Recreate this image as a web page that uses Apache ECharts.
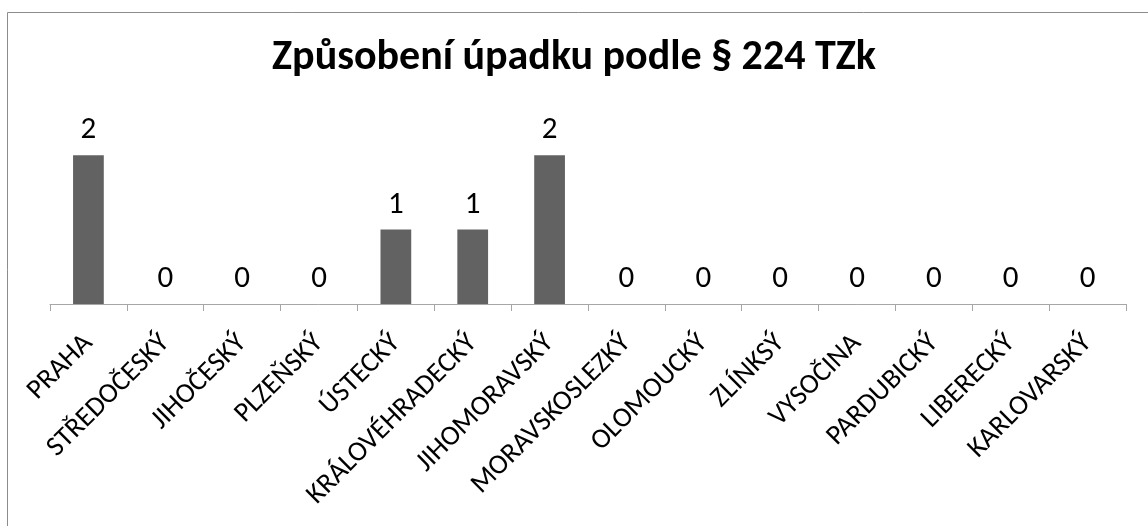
<!DOCTYPE html>
<html>
<head>
<meta charset="utf-8">
<script src="https://cdn.jsdelivr.net/npm/echarts@6/dist/echarts.min.js"></script>
<style>
  html, body { margin: 0; padding: 0; background: #fff; }
  #main { width: 1148px; height: 526px; }
</style>
</head>
<body>
<div id="main"></div>
<script>
  var regions = ['PRAHA', 'STŘEDOČESKÝ', 'JIHOČESKÝ', 'PLZEŇSKÝ', 'ÚSTECKÝ', 'KRÁLOVÉHRADECKÝ',
    'JIHOMORAVSKÝ', 'MORAVSKOSLEZKÝ', 'OLOMOUCKÝ', 'ZLÍNKSÝ', 'VYSOČINA', 'PARDUBICKÝ',
    'LIBERECKÝ', 'KARLOVARSKÝ']
  var counts = [2, 0, 0, 0, 1, 1, 2, 0, 0, 0, 0, 0, 0, 0]
  var titleText = 'Způsobení úpadku podle § 224 TZk'

  var font = 'Carlito, Lato, "Liberation Sans", sans-serif'
  var chart = echarts.init(document.getElementById('main'))
  chart.setOption({
    animation: false,
    title: {
      text: titleText,
      left: 'center',
      top: 32,
      textStyle: {
        fontSize: 42,
        fontWeight: 'bold',
        fontFamily: font,
        color: '#000'
      }
    },
    graphic: [{
      type: 'rect',
      shape: { x: 7.5, y: 12.5, width: 1200, height: 600 },
      style: { fill: 'none', stroke: '#8c8c8c', lineWidth: 1 },
      silent: true
    }],
    grid: { left: 50, right: 22, top: 118, bottom: 222 },
    xAxis: {
      type: 'category',
      data: regions,
      axisLine: { show: true, lineStyle: { color: '#a6a6a6', width: 1 } },
      axisTick: { show: true, length: 7, lineStyle: { color: '#a6a6a6' } },
      axisLabel: {
        rotate: 45,
        interval: 0,
        margin: 35,
        fontSize: 28,
        fontFamily: font,
        color: '#000'
      }
    },
    yAxis: {
      type: 'value',
      min: 0,
      max: 2.5,
      show: false,
      splitLine: { show: false }
    },
    series: [{
      type: 'bar',
      data: counts,
      barWidth: '40%',
      itemStyle: { color: '#626262' },
      label: {
        show: true,
        position: 'top',
        distance: 9,
        fontSize: 31,
        fontFamily: font,
        color: '#000'
      }
    }]
  })
</script>
</body>
</html>
